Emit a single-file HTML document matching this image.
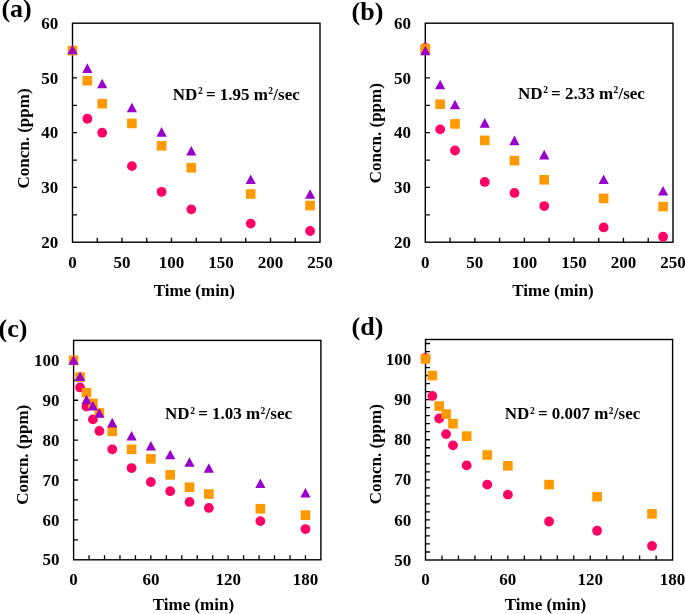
<!DOCTYPE html>
<html><head><meta charset="utf-8"><style>
html,body{margin:0;padding:0;background:#fff;overflow:hidden;width:685px;height:614px;}
svg{display:block;will-change:transform;}
.t{font-family:'Liberation Serif', serif;font-weight:bold;font-size:17.0px;fill:#000;}
.sup{font-size:9.5px;}
.lab{font-family:'Liberation Serif', serif;font-weight:bold;font-size:26px;fill:#000;}
</style></head><body>
<svg width="685" height="614" viewBox="0 0 685 614">
<rect width="685" height="614" fill="#fff"/>
<path d="M97.25 242.2V237.7M122 242.2V237.7M146.75 242.2V237.7M171.5 242.2V237.7M196.25 242.2V237.7M221 242.2V237.7M245.75 242.2V237.7M270.5 242.2V237.7M295.25 242.2V237.7M72.5 214.82H77M72.5 187.45H77M72.5 160.07H77M72.5 132.7H77M72.5 105.32H77M72.5 77.95H77M72.5 50.57H77" stroke="#000" stroke-width="1.3" fill="none"/>
<rect x="72.5" y="23.2" width="247.5" height="219" fill="none" stroke="#000" stroke-width="1.4"/>
<text transform="translate(58.3 247.8) scale(1 1.03)" text-anchor="end" class="t">20</text>
<text transform="translate(58.3 193.05) scale(1 1.03)" text-anchor="end" class="t">30</text>
<text transform="translate(58.3 138.3) scale(1 1.03)" text-anchor="end" class="t">40</text>
<text transform="translate(58.3 83.55) scale(1 1.03)" text-anchor="end" class="t">50</text>
<text transform="translate(58.3 28.8) scale(1 1.03)" text-anchor="end" class="t">60</text>
<text transform="translate(72.5 267.6) scale(1 1.03)" text-anchor="middle" class="t">0</text>
<text transform="translate(122 267.6) scale(1 1.03)" text-anchor="middle" class="t">50</text>
<text transform="translate(171.5 267.6) scale(1 1.03)" text-anchor="middle" class="t">100</text>
<text transform="translate(221 267.6) scale(1 1.03)" text-anchor="middle" class="t">150</text>
<text transform="translate(270.5 267.6) scale(1 1.03)" text-anchor="middle" class="t">200</text>
<text transform="translate(320 267.6) scale(1 1.03)" text-anchor="middle" class="t">250</text>
<text transform="translate(194.3 295.7) scale(1 1.03)" text-anchor="middle" class="t">Time (min)</text>
<text transform="translate(28.8 138.5) rotate(-90) scale(1.0 1)" text-anchor="middle" class="t">Concn. (ppm)</text>
<text transform="translate(172.8 99.6) scale(1 1.03)" class="t">ND<tspan class="sup" dx="0.6" dy="-5.5">2</tspan><tspan dx="3.2" dy="5.5">= 1.95 m</tspan><tspan class="sup" dx="0.3" dy="-5.5">2</tspan><tspan dx="0.3" dy="5.5">/sec</tspan></text>
<text transform="translate(1.4 17.4) scale(1 1.0)" class="lab">(a)</text>
<g fill="#ff0066"><circle cx="87.35" cy="118.74" r="4.9"/><circle cx="102.2" cy="132.7" r="4.9"/><circle cx="131.9" cy="166.1" r="4.9"/><circle cx="161.6" cy="191.83" r="4.9"/><circle cx="191.3" cy="209.35" r="4.9"/><circle cx="250.7" cy="223.59" r="4.9"/><circle cx="310.1" cy="230.98" r="4.9"/></g>
<g fill="#ff9900"><rect x="67.7" y="45.77" width="9.6" height="9.6"/><rect x="82.55" y="75.89" width="9.6" height="9.6"/><rect x="97.4" y="98.88" width="9.6" height="9.6"/><rect x="127.1" y="118.59" width="9.6" height="9.6"/><rect x="156.8" y="141.04" width="9.6" height="9.6"/><rect x="186.5" y="162.94" width="9.6" height="9.6"/><rect x="245.9" y="189.22" width="9.6" height="9.6"/><rect x="305.3" y="200.72" width="9.6" height="9.6"/></g>
<g fill="#9900cc"><path d="M72.5 44.68L77.6 54.28L67.4 54.28Z"/><path d="M87.35 63.3L92.45 72.9L82.25 72.9Z"/><path d="M102.2 78.63L107.3 88.23L97.1 88.23Z"/><path d="M131.9 102.71L137 112.31L126.8 112.31Z"/><path d="M161.6 127.08L166.7 136.68L156.5 136.68Z"/><path d="M191.3 145.97L196.4 155.57L186.2 155.57Z"/><path d="M250.7 174.44L255.8 184.04L245.6 184.04Z"/><path d="M310.1 189.22L315.2 198.82L305 198.82Z"/></g>
<path d="M450.07 242.2V237.7M474.84 242.2V237.7M499.61 242.2V237.7M524.38 242.2V237.7M549.15 242.2V237.7M573.92 242.2V237.7M598.69 242.2V237.7M623.46 242.2V237.7M648.23 242.2V237.7M425.3 214.82H429.8M425.3 187.45H429.8M425.3 160.07H429.8M425.3 132.7H429.8M425.3 105.32H429.8M425.3 77.95H429.8M425.3 50.57H429.8" stroke="#000" stroke-width="1.3" fill="none"/>
<rect x="425.3" y="23.2" width="247.7" height="219" fill="none" stroke="#000" stroke-width="1.4"/>
<text transform="translate(411.1 247.8) scale(1 1.03)" text-anchor="end" class="t">20</text>
<text transform="translate(411.1 193.05) scale(1 1.03)" text-anchor="end" class="t">30</text>
<text transform="translate(411.1 138.3) scale(1 1.03)" text-anchor="end" class="t">40</text>
<text transform="translate(411.1 83.55) scale(1 1.03)" text-anchor="end" class="t">50</text>
<text transform="translate(411.1 28.8) scale(1 1.03)" text-anchor="end" class="t">60</text>
<text transform="translate(425.3 267.6) scale(1 1.03)" text-anchor="middle" class="t">0</text>
<text transform="translate(474.84 267.6) scale(1 1.03)" text-anchor="middle" class="t">50</text>
<text transform="translate(524.38 267.6) scale(1 1.03)" text-anchor="middle" class="t">100</text>
<text transform="translate(573.92 267.6) scale(1 1.03)" text-anchor="middle" class="t">150</text>
<text transform="translate(623.46 267.6) scale(1 1.03)" text-anchor="middle" class="t">200</text>
<text transform="translate(673 267.6) scale(1 1.03)" text-anchor="middle" class="t">250</text>
<text transform="translate(553 295.7) scale(1 1.03)" text-anchor="middle" class="t">Time (min)</text>
<text transform="translate(380.8 133.2) rotate(-90) scale(1.0 1)" text-anchor="middle" class="t">Concn. (ppm)</text>
<text transform="translate(518 99) scale(1 1.03)" class="t">ND<tspan class="sup" dx="0.6" dy="-5.5">2</tspan><tspan dx="3.2" dy="5.5">= 2.33 m</tspan><tspan class="sup" dx="0.3" dy="-5.5">2</tspan><tspan dx="0.3" dy="5.5">/sec</tspan></text>
<text transform="translate(351.6 19.5) scale(1 1.0)" class="lab">(b)</text>
<g fill="#ff0066"><circle cx="425.3" cy="47.84" r="4.9"/><circle cx="440.16" cy="129.41" r="4.9"/><circle cx="455.02" cy="150.49" r="4.9"/><circle cx="484.75" cy="181.97" r="4.9"/><circle cx="514.47" cy="192.92" r="4.9"/><circle cx="544.2" cy="206.06" r="4.9"/><circle cx="603.64" cy="227.42" r="4.9"/><circle cx="663.09" cy="236.72" r="4.9"/></g>
<g fill="#ff9900"><rect x="420.5" y="44.13" width="9.6" height="9.6"/><rect x="435.36" y="99.43" width="9.6" height="9.6"/><rect x="450.22" y="119.14" width="9.6" height="9.6"/><rect x="479.95" y="135.56" width="9.6" height="9.6"/><rect x="509.67" y="155.82" width="9.6" height="9.6"/><rect x="539.4" y="174.98" width="9.6" height="9.6"/><rect x="598.84" y="193.6" width="9.6" height="9.6"/><rect x="658.29" y="201.81" width="9.6" height="9.6"/></g>
<g fill="#9900cc"><path d="M425.3 45.77L430.4 55.37L420.2 55.37Z"/><path d="M440.16 79.72L445.26 89.32L435.06 89.32Z"/><path d="M455.02 99.7L460.12 109.3L449.92 109.3Z"/><path d="M484.75 118.05L489.85 127.65L479.65 127.65Z"/><path d="M514.47 135.56L519.57 145.16L509.37 145.16Z"/><path d="M544.2 149.8L549.3 159.4L539.1 159.4Z"/><path d="M603.64 174.44L608.74 184.04L598.54 184.04Z"/><path d="M663.09 185.94L668.19 195.54L657.99 195.54Z"/></g>
<path d="M89.06 559.8V555.3M104.51 559.8V555.3M119.97 559.8V555.3M135.42 559.8V555.3M150.88 559.8V555.3M166.34 559.8V555.3M181.79 559.8V555.3M197.25 559.8V555.3M212.71 559.8V555.3M228.16 559.8V555.3M243.62 559.8V555.3M259.07 559.8V555.3M274.53 559.8V555.3M289.99 559.8V555.3M305.44 559.8V555.3M73.6 539.85H78.1M73.6 519.91H78.1M73.6 499.96H78.1M73.6 480.02H78.1M73.6 460.07H78.1M73.6 440.13H78.1M73.6 420.18H78.1M73.6 400.24H78.1M73.6 380.29H78.1M73.6 360.35H78.1" stroke="#000" stroke-width="1.3" fill="none"/>
<rect x="73.6" y="340.4" width="247.3" height="219.4" fill="none" stroke="#000" stroke-width="1.4"/>
<text transform="translate(59.4 565.4) scale(1 1.03)" text-anchor="end" class="t">50</text>
<text transform="translate(59.4 525.51) scale(1 1.03)" text-anchor="end" class="t">60</text>
<text transform="translate(59.4 485.62) scale(1 1.03)" text-anchor="end" class="t">70</text>
<text transform="translate(59.4 445.73) scale(1 1.03)" text-anchor="end" class="t">80</text>
<text transform="translate(59.4 405.84) scale(1 1.03)" text-anchor="end" class="t">90</text>
<text transform="translate(59.4 365.95) scale(1 1.03)" text-anchor="end" class="t">100</text>
<text transform="translate(73.6 585.2) scale(1 1.03)" text-anchor="middle" class="t">0</text>
<text transform="translate(150.88 585.2) scale(1 1.03)" text-anchor="middle" class="t">60</text>
<text transform="translate(228.16 585.2) scale(1 1.03)" text-anchor="middle" class="t">120</text>
<text transform="translate(305.44 585.2) scale(1 1.03)" text-anchor="middle" class="t">180</text>
<text transform="translate(193.4 610) scale(1 1.03)" text-anchor="middle" class="t">Time (min)</text>
<text transform="translate(27.7 454.8) rotate(-90) scale(1.0 1)" text-anchor="middle" class="t">Concn. (ppm)</text>
<text transform="translate(165.1 419.3) scale(1 1.03)" class="t">ND<tspan class="sup" dx="0.6" dy="-5.5">2</tspan><tspan dx="3.2" dy="5.5">= 1.03 m</tspan><tspan class="sup" dx="0.3" dy="-5.5">2</tspan><tspan dx="0.3" dy="5.5">/sec</tspan></text>
<text transform="translate(-1.4 337.3) scale(1 1.0)" class="lab">(c)</text>
<g fill="#ff0066"><circle cx="80.04" cy="387.47" r="4.9"/><circle cx="86.48" cy="406.62" r="4.9"/><circle cx="92.92" cy="419.38" r="4.9"/><circle cx="99.36" cy="430.95" r="4.9"/><circle cx="112.24" cy="449.3" r="4.9"/><circle cx="131.56" cy="468.05" r="4.9"/><circle cx="150.88" cy="482.01" r="4.9"/><circle cx="170.2" cy="491.19" r="4.9"/><circle cx="189.52" cy="501.96" r="4.9"/><circle cx="208.84" cy="507.94" r="4.9"/><circle cx="260.36" cy="521.11" r="4.9"/><circle cx="305.44" cy="529.08" r="4.9"/></g>
<g fill="#ff9900"><rect x="68.8" y="355.55" width="9.6" height="9.6"/><rect x="75.24" y="372.3" width="9.6" height="9.6"/><rect x="81.68" y="387.86" width="9.6" height="9.6"/><rect x="88.12" y="398.63" width="9.6" height="9.6"/><rect x="94.56" y="408.2" width="9.6" height="9.6"/><rect x="107.44" y="426.55" width="9.6" height="9.6"/><rect x="126.76" y="444.5" width="9.6" height="9.6"/><rect x="146.08" y="454.08" width="9.6" height="9.6"/><rect x="165.4" y="470.03" width="9.6" height="9.6"/><rect x="184.72" y="482.4" width="9.6" height="9.6"/><rect x="204.04" y="489.18" width="9.6" height="9.6"/><rect x="255.56" y="503.94" width="9.6" height="9.6"/><rect x="300.64" y="510.32" width="9.6" height="9.6"/></g>
<g fill="#9900cc"><path d="M73.6 355.15L78.7 364.75L68.5 364.75Z"/><path d="M80.04 371.5L85.14 381.1L74.94 381.1Z"/><path d="M86.48 394.64L91.58 404.24L81.38 404.24Z"/><path d="M92.92 401.02L98.02 410.62L87.82 410.62Z"/><path d="M99.36 408.2L104.46 417.8L94.26 417.8Z"/><path d="M112.24 417.78L117.34 427.38L107.14 427.38Z"/><path d="M131.56 430.94L136.66 440.54L126.46 440.54Z"/><path d="M150.88 440.91L155.98 450.51L145.78 450.51Z"/><path d="M170.2 449.69L175.3 459.29L165.1 459.29Z"/><path d="M189.52 457.27L194.62 466.87L184.42 466.87Z"/><path d="M208.84 463.25L213.94 472.85L203.74 472.85Z"/><path d="M260.36 478.41L265.46 488.01L255.26 488.01Z"/><path d="M305.44 487.98L310.54 497.58L300.34 497.58Z"/></g>
<path d="M441.97 560V555.5M458.45 560V555.5M474.92 560V555.5M491.39 560V555.5M507.87 560V555.5M524.34 560V555.5M540.81 560V555.5M557.29 560V555.5M573.76 560V555.5M590.23 560V555.5M606.71 560V555.5M623.18 560V555.5M639.65 560V555.5M656.13 560V555.5M425.5 551.98H430M425.5 543.96H430M425.5 535.95H430M425.5 527.93H430M425.5 519.91H430M425.5 511.89H430M425.5 503.87H430M425.5 495.85H430M425.5 487.84H430M425.5 479.82H430M425.5 471.8H430M425.5 463.78H430M425.5 455.76H430M425.5 447.75H430M425.5 439.73H430M425.5 431.71H430M425.5 423.69H430M425.5 415.67H430M425.5 407.65H430M425.5 399.64H430M425.5 391.62H430M425.5 383.6H430M425.5 375.58H430M425.5 367.56H430M425.5 359.55H430M425.5 351.53H430M425.5 343.51H430" stroke="#000" stroke-width="1.3" fill="none"/>
<rect x="425.5" y="339.5" width="247.1" height="220.5" fill="none" stroke="#000" stroke-width="1.4"/>
<text transform="translate(411.3 565.6) scale(1 1.03)" text-anchor="end" class="t">50</text>
<text transform="translate(411.3 525.51) scale(1 1.03)" text-anchor="end" class="t">60</text>
<text transform="translate(411.3 485.42) scale(1 1.03)" text-anchor="end" class="t">70</text>
<text transform="translate(411.3 445.33) scale(1 1.03)" text-anchor="end" class="t">80</text>
<text transform="translate(411.3 405.24) scale(1 1.03)" text-anchor="end" class="t">90</text>
<text transform="translate(411.3 365.15) scale(1 1.03)" text-anchor="end" class="t">100</text>
<text transform="translate(425.5 585.4) scale(1 1.03)" text-anchor="middle" class="t">0</text>
<text transform="translate(507.87 585.4) scale(1 1.03)" text-anchor="middle" class="t">60</text>
<text transform="translate(590.23 585.4) scale(1 1.03)" text-anchor="middle" class="t">120</text>
<text transform="translate(672.6 585.4) scale(1 1.03)" text-anchor="middle" class="t">180</text>
<text transform="translate(545.4 609.7) scale(1 1.03)" text-anchor="middle" class="t">Time (min)</text>
<text transform="translate(381.2 454.2) rotate(-90) scale(1.0 1)" text-anchor="middle" class="t">Concn. (ppm)</text>
<text transform="translate(504.8 419.4) scale(1 1.03)" class="t">ND<tspan class="sup" dx="0.6" dy="-5.5">2</tspan><tspan dx="3.2" dy="5.5">= 0.007 m</tspan><tspan class="sup" dx="0.3" dy="-5.5">2</tspan><tspan dx="0.3" dy="5.5">/sec</tspan></text>
<text transform="translate(351.6 335.2) scale(1 1.0)" class="lab">(d)</text>
<g fill="#ff0066"><circle cx="425.5" cy="357.94" r="4.9"/><circle cx="432.36" cy="395.95" r="4.9"/><circle cx="439.23" cy="418.48" r="4.9"/><circle cx="446.09" cy="434.11" r="4.9"/><circle cx="452.96" cy="445.34" r="4.9"/><circle cx="466.68" cy="465.39" r="4.9"/><circle cx="487.27" cy="484.63" r="4.9"/><circle cx="507.87" cy="494.65" r="4.9"/><circle cx="549.05" cy="521.51" r="4.9"/><circle cx="597.1" cy="530.73" r="4.9"/><circle cx="652.01" cy="545.97" r="4.9"/></g>
<g fill="#ff9900"><rect x="420.7" y="354.14" width="9.6" height="9.6"/><rect x="427.56" y="370.78" width="9.6" height="9.6"/><rect x="434.43" y="401.25" width="9.6" height="9.6"/><rect x="441.29" y="409.27" width="9.6" height="9.6"/><rect x="448.16" y="418.89" width="9.6" height="9.6"/><rect x="461.88" y="431.32" width="9.6" height="9.6"/><rect x="482.47" y="450.16" width="9.6" height="9.6"/><rect x="503.07" y="460.99" width="9.6" height="9.6"/><rect x="544.25" y="479.83" width="9.6" height="9.6"/><rect x="592.3" y="491.86" width="9.6" height="9.6"/><rect x="647.21" y="509.1" width="9.6" height="9.6"/></g>
</svg>
</body></html>
